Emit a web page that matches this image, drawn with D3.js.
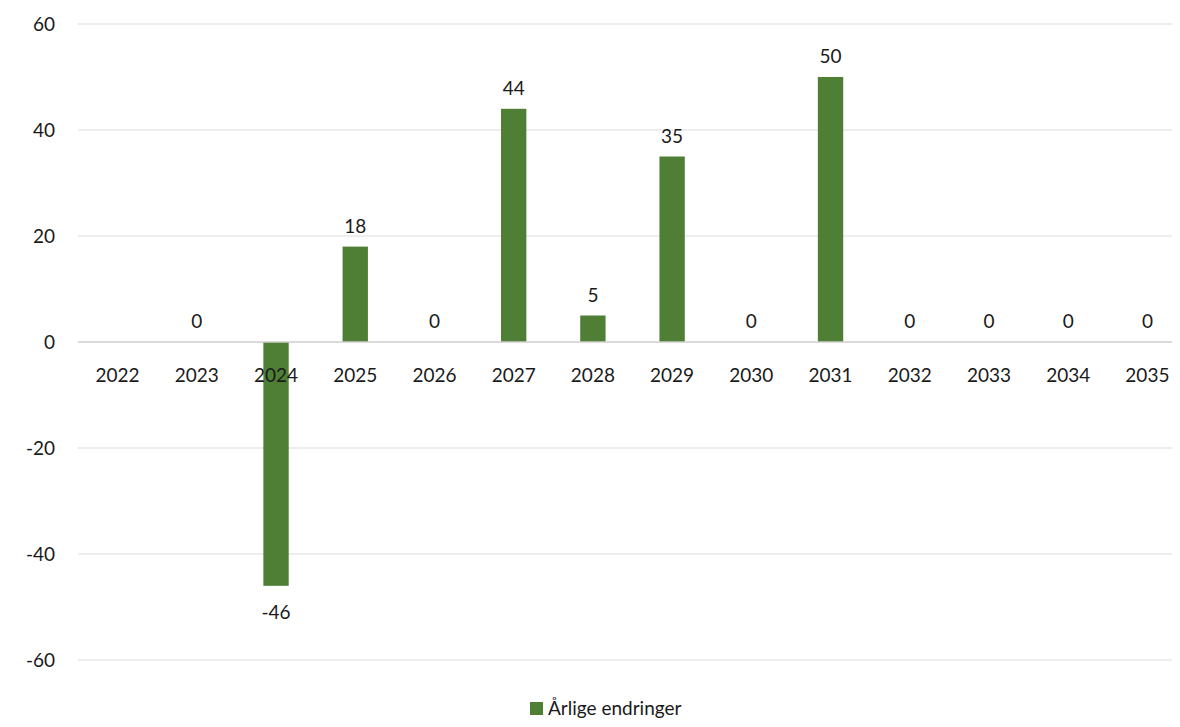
<!DOCTYPE html>
<html>
<head>
<meta charset="utf-8">
<script src="https://cdn.jsdelivr.net/npm/d3@7"></script>
<style>
  body { margin: 0; background: #fff; }
  text { font-family: Lato, "Open Sans", sans-serif; fill: #1a1a1a; }
</style>
</head>
<body>
<div id="chart"></div>
<script>
// Data
const years = ["2022", "2023", "2024", "2025", "2026", "2027", "2028", "2029", "2030", "2031", "2032", "2033", "2034", "2035"];
const changes = [null, 0, -46, 18, 0, 44, 5, 35, 0, 50, 0, 0, 0, 0];
const yTicks = [-60, -40, -20, 0, 20, 40, 60];
const seriesName = "Årlige endringer";

const W = 1180, H = 727;
const plot = { left: 78, right: 1187, top: 24, bottom: 660 };

const svg = d3.select("#chart").append("svg")
  .attr("width", W)
  .attr("height", H);

const x = d3.scaleBand()
  .domain(years)
  .range([plot.left, plot.right])
  .paddingInner(0.68)
  .paddingOuter(0.34);

const y = d3.scaleLinear()
  .domain([-60, 60])
  .range([plot.bottom, plot.top]);

// gridlines
svg.append("g")
  .selectAll("line")
  .data(yTicks.filter(d => d !== 0))
  .join("line")
  .attr("x1", plot.left)
  .attr("x2", W - 8)
  .attr("y1", d => y(d))
  .attr("y2", d => y(d))
  .attr("stroke", "#dcdcdc")
  .attr("stroke-width", 1.2);

// y tick labels
svg.append("g")
  .selectAll("text")
  .data(yTicks)
  .join("text")
  .attr("x", 55)
  .attr("y", d => y(d))
  .attr("dy", "0.35em")
  .attr("text-anchor", "end")
  .style("font-size", "19px")
  .text(d => d);

// bars
const barData = years.map((yr, i) => ({ yr, v: changes[i] })).filter(d => d.v !== null);

svg.append("g")
  .selectAll("rect")
  .data(barData)
  .join("rect")
  .attr("x", d => x(d.yr))
  .attr("width", x.bandwidth())
  .attr("y", d => y(Math.max(0, d.v)))
  .attr("height", d => Math.abs(y(d.v) - y(0)))
  .attr("fill", "#4f7f35");

// zero line
svg.append("line")
  .attr("x1", plot.left)
  .attr("x2", W - 8)
  .attr("y1", y(0))
  .attr("y2", y(0))
  .attr("stroke", "#d0cccc")
  .attr("stroke-width", 1.5);

// category labels
svg.append("g")
  .selectAll("text")
  .data(years)
  .join("text")
  .attr("x", d => x(d) + x.bandwidth() / 2)
  .attr("y", y(0) + 40)
  .attr("text-anchor", "middle")
  .style("font-size", "19px")
  .text(d => d);

// value labels
svg.append("g")
  .selectAll("text")
  .data(barData)
  .join("text")
  .attr("x", d => x(d.yr) + x.bandwidth() / 2)
  .attr("y", d => d.v < 0 ? y(d.v) + 33 : y(d.v) - 14)
  .attr("text-anchor", "middle")
  .style("font-size", "19px")
  .text(d => d.v);

// legend
const legend = svg.append("g").attr("transform", "translate(530,702)");
legend.append("rect")
  .attr("width", 13)
  .attr("height", 13)
  .attr("fill", "#4f7f35");
legend.append("text")
  .attr("x", 18)
  .attr("y", 13)
  .style("font-size", "19px")
  .text(seriesName);
</script>
</body>
</html>
